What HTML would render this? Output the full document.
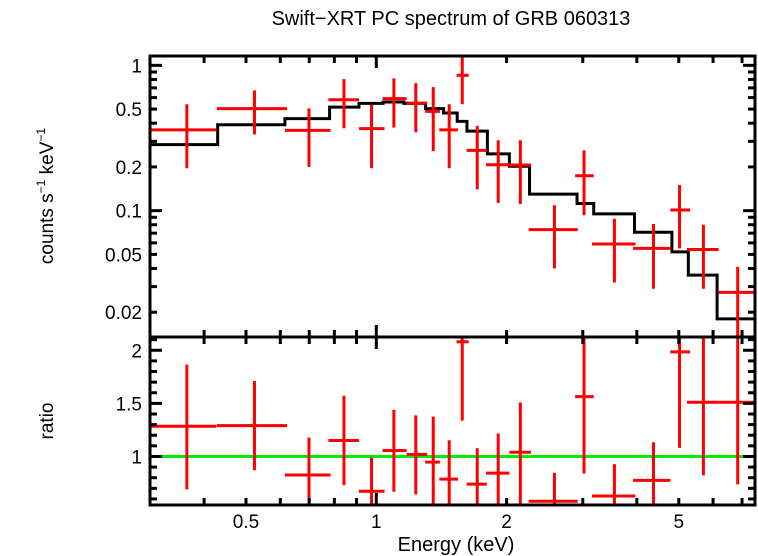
<!DOCTYPE html>
<html><head><meta charset="utf-8"><style>
html,body{margin:0;padding:0;background:#fff;}
svg{display:block;font-family:"Liberation Sans",Arial,sans-serif;}
</style></head><body>
<svg id="chart" width="758" height="556" viewBox="0 0 758 556" xmlns="http://www.w3.org/2000/svg">
<text x="451" y="25" font-size="20" text-anchor="middle">Swift−XRT PC spectrum of GRB 060313</text>
<text transform="translate(53,196) rotate(-90)" font-size="19" text-anchor="middle">counts s<tspan font-size="12" dy="-8">−1</tspan><tspan dy="8"> keV</tspan><tspan font-size="12" dy="-8">−1</tspan></text>
<text transform="translate(53,421) rotate(-90)" font-size="19" text-anchor="middle">ratio</text>
<text x="456" y="551" font-size="20" text-anchor="middle">Energy (keV)</text>
<g id="g"></g>
</svg>
<script>
// ---- data ----
const modelEdges=[0.3,0.43,0.615,0.78,0.912,1.037,1.158,1.30,1.43,1.538,1.62,1.806,2.03,2.26,2.91,3.18,3.95,4.82,5.26,6.13,7.5];
const modelValues=[0.285,0.39,0.43,0.516,0.548,0.56,0.548,0.504,0.47,0.412,0.353,0.246,0.202,0.13,0.112,0.095,0.071,0.052,0.036,0.018];
const binLo=[0.298,0.428,0.615,0.775,0.912,1.034,1.175,1.297,1.398,1.533,1.617,1.793,2.03,2.25,2.88,3.15,3.92,4.78,5.22,6.18];
const binHi=[0.427,0.622,0.784,0.912,1.045,1.175,1.311,1.403,1.544,1.635,1.8,2.03,2.277,2.92,3.18,3.97,4.78,5.31,6.18,7.55];
const binMid=[0.365,0.523,0.699,0.842,0.975,1.098,1.234,1.354,1.474,1.58,1.711,1.913,2.152,2.58,3.02,3.55,4.37,5.02,5.7,6.84];
const counts=[0.36,0.504,0.357,0.58,0.367,0.59,0.55,0.482,0.36,0.854,0.26,0.207,0.206,0.074,0.174,0.059,0.055,0.101,0.054,0.0274];
const countsHi=[0.54,0.673,0.506,0.805,0.534,0.814,0.755,0.709,0.54,1.3,0.384,0.305,0.305,0.109,0.26,0.088,0.081,0.15,0.08,0.041];
const countsLo=[0.196,0.335,0.2,0.369,0.196,0.373,0.346,0.257,0.196,0.54,0.14,0.113,0.111,0.04,0.093,0.032,0.029,0.055,0.029,0.012];
const ratio=[1.284,1.29,0.825,1.15,0.672,1.056,1.02,0.947,0.787,2.08,0.74,0.843,1.04,0.578,1.563,0.628,0.775,1.985,1.51,1.51];
const ratioHi=[1.866,1.71,1.178,1.572,0.99,1.44,1.387,1.375,1.153,2.8,1.078,1.216,1.509,0.846,2.4,0.928,1.134,2.9,2.4,2.6];
const ratioLo=[0.69,0.87,0.4,0.73,0.35,0.668,0.643,0.45,0.42,1.338,0.4,0.45,0.45,0.3,0.84,0.3,0.4,1.081,0.822,0.737];
const topTicks=[1,0.5,0.2,0.1,0.05,0.02];
const topTickLabels=["1","0.5","0.2","0.1","0.05","0.02"];
const botTicks=[2,1.5,1];
const botTickLabels=["2","1.5","1"];
const xTicks=[0.5,1,2,5];
const xTickLabels=["0.5","1","2","5"];

// ---- axes ----
const L=150,R=755,T=56,M=337,B=505;
const xMin=0.3,xMax=7.5;
const X=e=>L+(Math.log10(e)-Math.log10(xMin))/(Math.log10(xMax)-Math.log10(xMin))*(R-L);
const yTopMax=1.16,yTopMin=0.0135;
const YT=v=>T+(Math.log10(yTopMax)-Math.log10(v))/(Math.log10(yTopMax)-Math.log10(yTopMin))*(M-T);
const rMax=2.125,rMin=0.543;
const YB=v=>M+(rMax-v)/(rMax-rMin)*(B-M);
const NS="http://www.w3.org/2000/svg";
const g=document.getElementById('g');
function el(tag,attrs,parent){const e=document.createElementNS(NS,tag);for(const k in attrs)e.setAttribute(k,attrs[k]);(parent||g).appendChild(e);return e;}

const defs=el('defs',{});
const c1=el('clipPath',{id:'ct'},defs);el('rect',{x:L,y:T,width:R-L,height:M-T},c1);
const c2=el('clipPath',{id:'cb'},defs);el('rect',{x:L,y:M,width:R-L,height:B-M},c2);

let d='';
for(let i=0;i<modelValues.length;i++){
  const y=YT(modelValues[i]);
  d+=(i===0?'M':'L')+X(modelEdges[i])+','+y+'L'+X(modelEdges[i+1])+','+y;
}
const mp=el('path',{d:d,fill:'none',stroke:'#000','stroke-width':3,'clip-path':'url(#ct)'});



for(let i=0;i<counts.length;i++){
  const grp=el('g',{stroke:'#f00','stroke-width':3,'clip-path':'url(#ct)'});
  
  
  el('line',{x1:X(binLo[i]),x2:X(binHi[i]),y1:YT(counts[i]),y2:YT(counts[i])},grp);
  el('line',{x1:X(binMid[i]),x2:X(binMid[i]),y1:YT(countsHi[i]),y2:YT(countsLo[i])},grp);
}
const gl=el('line',{x1:L,x2:R,y1:YB(1),y2:YB(1),stroke:'#0e0','stroke-width':3});


for(let i=0;i<ratio.length;i++){
  const grp=el('g',{stroke:'#f00','stroke-width':3,'clip-path':'url(#cb)'});
  
  
  el('line',{x1:X(binLo[i]),x2:X(binHi[i]),y1:YB(ratio[i]),y2:YB(ratio[i])},grp);
  el('line',{x1:X(binMid[i]),x2:X(binMid[i]),y1:YB(ratioHi[i]),y2:YB(ratioLo[i])},grp);
}

const f1=el('rect',{x:L,y:T,width:R-L,height:M-T,fill:'none',stroke:'#000','stroke-width':3});


const f2=el('rect',{x:L,y:M,width:R-L,height:B-M,fill:'none',stroke:'#000','stroke-width':3});



const tk=el('g',{stroke:'#000','stroke-width':3});


const xt=[0.3,0.4,0.5,0.6,0.7,0.8,0.9,1,2,3,4,5,6,7];
xt.forEach(e=>{
  const x=X(e),len=(e===1)?12:7;
  [T,M,B].forEach(y0=>{
    if(y0!==B) el('line',{x1:x,x2:x,y1:y0,y2:y0+len},tk);
    if(y0!==T) el('line',{x1:x,x2:x,y1:y0,y2:y0-len},tk);
  });
});
const ytv=[];
[0.01,0.1,1].forEach(dec=>{for(let k=1;k<10;k++){const v=dec*k;if(v>=yTopMin&&v<=yTopMax)ytv.push(v);}});
ytv.forEach(v=>{const y=YT(v);const major=[1,0.1,0.01].some(m=>Math.abs(v-m)<1e-9);const len=major?12:7;
  el('line',{x1:L,x2:L+len,y1:y,y2:y},tk);el('line',{x1:R,x2:R-len,y1:y,y2:y},tk);});
for(let v=0.6;v<=2.1001;v+=0.1){const y=YB(v);const major=Math.abs(v*2-Math.round(v*2))<1e-6;const len=major?12:7;
  el('line',{x1:L,x2:L+len,y1:y,y2:y},tk);el('line',{x1:R,x2:R-len,y1:y,y2:y},tk);}

topTicks.forEach((v,i)=>{const t=el('text',{x:L-8,y:YT(v)+7,'font-size':19,'text-anchor':'end'});t.textContent=topTickLabels[i];
  
  });
botTicks.forEach((v,i)=>{const t=el('text',{x:L-8,y:YB(v)+7,'font-size':19,'text-anchor':'end'});t.textContent=botTickLabels[i];
  
  });
xTicks.forEach((v,i)=>{const t=el('text',{x:X(v),y:528,'font-size':19,'text-anchor':'middle'});t.textContent=xTickLabels[i];
  
  });
</script>
</body></html>
